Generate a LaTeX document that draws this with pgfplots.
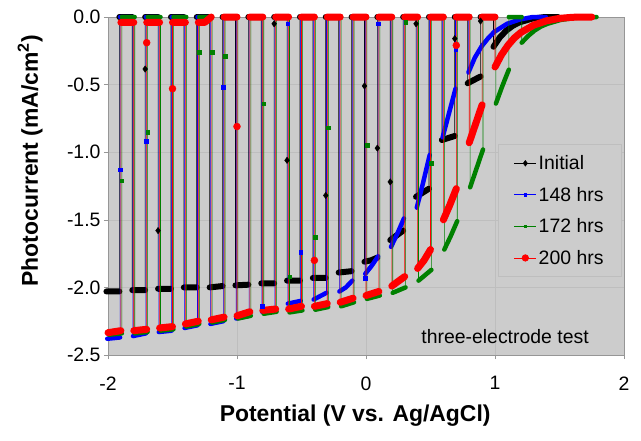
\documentclass[border=0pt]{standalone}
\usepackage{fontspec}
\setmainfont{Liberation Sans}
\usepackage{pgfplots}
\usepackage{pgfplotstable}
\pgfplotsset{compat=1.18}

\definecolor{plotbg}{RGB}{204,204,204}
\definecolor{gridc}{RGB}{190,190,190}
\definecolor{framec}{RGB}{150,150,150}
\definecolor{xlgreen}{RGB}{0,128,0}
\definecolor{xlblue}{RGB}{0,0,255}
\definecolor{xlred}{RGB}{255,0,0}

\newcommand\tickfont{\fontsize{19.5}{23.4}\selectfont}
\newcommand\labfont{\fontsize{23}{27}\selectfont\bfseries}

% f = 1: sampled point (thick run), 0: break on a transition, 2: lone point on a transition
\pgfplotstableread{
x y f
-2.0 -2.03 1
-1.9 -2.03 1
-1.9 -1.0 0
-1.9 0 1
-1.8 0 1
-1.8 -1.0 0
-1.8 -2.02 1
-1.7 -2.02 1
-1.7 -0.385 2
-1.7 0 1
-1.6 0 1
-1.6 -1.58 2
-1.6 -2.01 1
-1.5 -2.01 1
-1.5 -1.0 0
-1.5 0 1
-1.4 0 1
-1.4 -1.0 0
-1.4 -2.00 1
-1.3 -2.00 1
-1.3 -1.0 0
-1.3 0 1
-1.2 0 1
-1.2 -1.0 0
-1.2 -2.00 1
-1.1 -1.99 1
-1.1 -1.0 0
-1.1 0 1
-1.0 0 1
-1.0 -1.0 0
-1.0 -1.985 1
-0.9 -1.98 1
-0.9 -1.0 0
-0.9 0 1
-0.8 0 1
-0.8 -1.0 0
-0.8 -1.97 1
-0.7 -1.97 1
-0.7 -0.05 2
-0.7 0 1
-0.6 0 1
-0.6 -1.06 2
-0.6 -1.95 1
-0.5 -1.95 1
-0.5 -1.0 0
-0.5 0 1
-0.4 0 1
-0.4 -1.0 0
-0.4 -1.93 1
-0.3 -1.93 1
-0.3 -1.32 2
-0.3 0 1
-0.2 0 1
-0.2 -1.0 0
-0.2 -1.89 1
-0.1 -1.88 1
-0.1 -1.0 0
-0.1 0 1
0.0 0 1
0.0 -0.51 2
0.0 -1.81 1
0.05 -1.80 1
0.1 -1.78 1
0.1 -0.97 2
0.1 0 1
0.2 0 1
0.2 -1.22 2
0.2 -1.65 1
0.3 -1.58 1
0.3 -0.8 0
0.3 0 1
0.4 0 1
0.4 -0.05 2
0.4 -1.33 1
0.5 -1.27 1
0.5 -0.6 0
0.5 0 1
0.6 0 1
0.6 -0.45 0
0.6 -0.91 1
0.7 -0.88 1
0.7 -0.16 2
0.7 0 1
0.8 0 1
0.8 -0.25 0
0.8 -0.49 1
0.9 -0.44 1
0.9 -0.03 2
0.9 0 1
1.0 0 1
1.0 -0.1 0
1.0 -0.22 1
1.05 -0.15 1
1.1 -0.10 1
1.15 -0.065 1
1.2 -0.04 1
1.3 -0.012 1
1.4 0 1
1.5 0 1
}\initial

\pgfplotstableread{
x y f
-2.0 -2.38 1
-1.9 -2.37 1
-1.9 -1.13 2
-1.9 0 1
-1.8 0 1
-1.8 -1.2 0
-1.8 -2.36 1
-1.7 -2.34 1
-1.7 -0.92 2
-1.7 0 1
-1.6 0 1
-1.6 -1.2 0
-1.6 -2.33 1
-1.5 -2.32 1
-1.5 -1.2 0
-1.5 0 1
-1.4 0 1
-1.4 -1.2 0
-1.4 -2.30 1
-1.3 -2.28 1
-1.3 -1.2 0
-1.3 0 1
-1.2 0 1
-1.2 -1.2 0
-1.2 -2.27 1
-1.1 -2.25 1
-1.1 -0.52 2
-1.1 0 1
-1.0 0 1
-1.0 -1.2 0
-1.0 -2.23 1
-0.9 -2.21 1
-0.9 -1.2 0
-0.9 0 1
-0.8 0 1
-0.8 -2.14 2
-0.8 -2.18 1
-0.7 -2.16 1
-0.7 -1.1 0
-0.7 0 1
-0.6 0 1
-0.6 -0.05 2
-0.6 -2.12 1
-0.5 -2.10 1
-0.5 -1.74 2
-0.5 0 1
-0.4 0 1
-0.4 -1.1 0
-0.4 -2.09 1
-0.3 -2.04 1
-0.3 -1.0 0
-0.3 0 1
-0.2 0 1
-0.2 -1.0 0
-0.2 -2.03 1
-0.15 -2.00 1
-0.1 -1.95 1
-0.1 -1.0 0
-0.1 0 1
0.0 0 1
0.0 -1.93 2
0.0 -1.90 1
0.05 -1.84 1
0.1 -1.77 1
0.1 -0.05 2
0.1 0 1
0.2 0 1
0.2 -0.9 0
0.2 -1.70 1
0.25 -1.60 1
0.3 -1.49 1
0.3 -0.7 0
0.3 0 1
0.4 0 1
0.4 -0.7 0
0.4 -1.41 1
0.45 -1.22 1
0.5 -1.02 1
0.5 -0.5 0
0.5 0 1
0.6 0 1
0.6 -0.45 0
0.6 -0.89 1
0.65 -0.71 1
0.7 -0.53 1
0.7 -0.24 2
0.7 0 1
0.8 0 1
0.8 -0.2 0
0.8 -0.41 1
0.85 -0.30 1
0.9 -0.22 1
0.95 -0.16 1
1.0 -0.11 1
1.1 -0.05 1
1.2 -0.018 1
1.3 0 1
1.4 0 1
}\hrsA

\pgfplotstableread{
x y f
-2.0 -2.35 1
-1.9 -2.34 1
-1.9 -1.21 2
-1.9 0 1
-1.8 0 1
-1.8 -1.2 0
-1.8 -2.34 1
-1.7 -2.33 1
-1.7 -0.85 2
-1.7 0 1
-1.6 0 1
-1.6 -1.2 0
-1.6 -2.32 1
-1.5 -2.31 1
-1.5 -1.2 0
-1.5 0 1
-1.4 0 1
-1.4 -1.2 0
-1.4 -2.29 1
-1.3 -2.27 1
-1.3 -0.26 2
-1.3 0 1
-1.2 0 1
-1.2 -0.26 2
-1.2 -2.26 1
-1.1 -2.24 1
-1.1 -0.29 2
-1.1 0 1
-1.0 0 1
-1.0 -1.2 0
-1.0 -2.23 1
-0.9 -2.21 1
-0.9 -1.2 0
-0.9 0 1
-0.8 0 1
-0.8 -0.64 2
-0.8 -2.195 1
-0.7 -2.18 1
-0.7 -1.1 0
-0.7 0 1
-0.6 0 1
-0.6 -1.92 2
-0.6 -2.185 1
-0.5 -2.17 1
-0.5 -1.1 0
-0.5 0 1
-0.4 0 1
-0.4 -1.63 2
-0.4 -2.165 1
-0.3 -2.145 1
-0.3 -0.82 2
-0.3 0 1
-0.2 0 1
-0.2 -1.1 0
-0.2 -2.14 1
-0.1 -2.11 1
-0.1 -1.0 0
-0.1 0 1
0.0 0 1
0.0 -0.95 2
0.0 -2.085 1
0.1 -2.06 1
0.1 -1.0 0
0.1 0 1
0.2 0 1
0.2 -1.0 0
0.2 -2.04 1
0.3 -2.00 1
0.3 -0.04 2
0.3 0 1
0.4 0 1
0.4 -1.0 0
0.4 -1.95 1
0.45 -1.91 1
0.5 -1.87 1
0.5 -1.08 2
0.5 0 1
0.6 0 1
0.6 -0.9 0
0.6 -1.72 1
0.65 -1.62 1
0.7 -1.51 1
0.7 -0.7 0
0.7 0 1
0.8 0 1
0.8 -0.6 0
0.8 -1.26 1
0.85 -1.12 1
0.9 -0.98 1
0.9 -0.5 0
0.9 0 1
1.0 0 1
1.0 -0.3 0
1.0 -0.64 1
1.05 -0.51 1
1.1 -0.39 1
1.1 -0.2 0
1.1 0 1
1.2 0 1
1.2 -0.1 0
1.2 -0.19 1
1.25 -0.14 1
1.3 -0.10 1
1.35 -0.07 1
1.4 -0.05 1
1.5 -0.022 1
1.6 -0.008 1
1.7 0 1
1.78 0 1
}\hrsB

\pgfplotstableread{
x y f
-2.0 -2.335 1
-1.9 -2.32 1
-1.9 -1.1 0
-1.9 -0.04 1
-1.8 -0.04 1
-1.8 -1.1 0
-1.8 -2.32 1
-1.7 -2.31 1
-1.7 -0.19 2
-1.7 -0.04 1
-1.6 -0.04 1
-1.6 -1.1 0
-1.6 -2.30 1
-1.5 -2.29 1
-1.5 -0.53 2
-1.5 -0.04 1
-1.4 -0.04 1
-1.4 -1.1 0
-1.4 -2.27 1
-1.3 -2.25 1
-1.3 -1.1 0
-1.3 -0.04 1
-1.25 -0.04 1
-1.2 0 1
-1.2 -1.1 0
-1.2 -2.24 1
-1.1 -2.22 1
-1.1 -1.1 0
-1.1 0 1
-1.0 0 1
-1.0 -0.81 2
-1.0 -2.21 1
-0.9 -2.18 1
-0.9 -1.1 0
-0.9 0 1
-0.8 0 1
-0.8 -1.1 0
-0.8 -2.17 1
-0.7 -2.16 1
-0.7 -1.1 0
-0.7 0 1
-0.6 0 1
-0.6 -1.1 0
-0.6 -2.16 1
-0.5 -2.14 1
-0.5 -1.1 0
-0.5 0 1
-0.4 0 1
-0.4 -1.80 2
-0.4 -2.14 1
-0.3 -2.12 1
-0.3 -1.1 0
-0.3 0 1
-0.2 0 1
-0.2 -1.1 0
-0.2 -2.11 1
-0.1 -2.08 1
-0.1 -1.0 0
-0.1 0 1
0.0 0 1
0.0 -1.0 0
0.0 -2.06 1
0.1 -2.03 1
0.1 -1.0 0
0.1 0 1
0.2 0 1
0.2 -1.0 0
0.2 -1.99 1
0.3 -1.92 1
0.3 -1.0 0
0.3 0 1
0.4 0 1
0.4 -0.9 0
0.4 -1.86 1
0.45 -1.80 1
0.5 -1.72 1
0.5 -0.9 0
0.5 0 1
0.6 0 1
0.6 -0.7 0
0.6 -1.50 1
0.65 -1.39 1
0.7 -1.27 1
0.7 -0.21 2
0.7 0 1
0.8 0 1
0.8 -0.5 0
0.8 -0.93 1
0.85 -0.79 1
0.9 -0.65 1
0.9 -0.3 0
0.9 0 1
1.0 0 1
1.0 -0.2 0
1.0 -0.37 1
1.05 -0.28 1
1.1 -0.21 1
1.15 -0.155 1
1.2 -0.115 1
1.3 -0.06 1
1.4 -0.028 1
1.5 -0.01 1
1.6 -0.002 1
1.75 0 1
}\hrsC

\pgfplotsset{
  trace/.style={line width=0.6bp, no marks, forget plot},
  run/.style={line width=#1, line cap=round, line join=round, no marks, forget plot,
    unbounded coords=jump, restrict expr to domain={\thisrow{f}}{0.5:1.5}},
  lone/.style={only marks, forget plot, restrict expr to domain={\thisrow{f}}{1.5:2.5}},
}

\begin{document}
\begin{tikzpicture}
\begin{axis}[
  at={(0,0)}, anchor=south west,
  scale only axis, width=516bp, height=338bp,
  xmin=-2, xmax=2, ymin=-2.5, ymax=0,
  clip=false,
  axis background/.style={fill=plotbg},
  axis line style={framec, line width=0.8bp},
  grid=major, major grid style={gridc, line width=0.6bp},
  xtick={-2,-1,0,1,2}, xticklabels={-2,-1,0,1,2},
  ytick={-2.5,-2,-1.5,-1,-0.5,0},
  yticklabels={-2.5,-2.0,-1.5,-1.0,-0.5,0.0},
  xtick pos=left, ytick pos=left,
  tick align=outside, major tick length=4bp,
  tick style={framec, line width=0.6bp},
  every tick label/.append style={font=\tickfont},
  xticklabel style={yshift=-14bp},
  xlabel={Potential (V vs. Ag/AgCl)},
  ylabel={Photocurrent (mA/cm\textsuperscript{2})},
  every axis x label/.style={at={(axis description cs:0.479,-0.178)}, anchor=center, font=\labfont},
  every axis y label/.style={at={(axis description cs:-0.151,0.575)}, rotate=90, anchor=center, font=\labfont},
  legend style={at={(axis description cs:0.996,0.624)}, anchor=north east,
    fill=plotbg, draw=gridc, line width=0.8bp, font=\tickfont,
    row sep=12bp, inner xsep=16bp, inner ysep=9bp},
  legend cell align=left,
  legend image code/.code={\draw[mark repeat=2, mark phase=2]
    plot coordinates {(0bp,0bp) (11bp,0bp) (22bp,0bp)};},
]
\addlegendimage{black, line width=0.8bp, mark=diamond*, mark size=2.6bp}
\addlegendentry{Initial}
\addlegendimage{xlblue, line width=0.8bp, mark=square*, mark size=1.3bp}
\addlegendentry{148 hrs}
\addlegendimage{xlgreen, line width=0.8bp, mark=square*, mark size=1.3bp}
\addlegendentry{172 hrs}
\addlegendimage{xlred, line width=0.8bp, mark=*, mark size=3.2bp}
\addlegendentry{200 hrs}

% the four runs were not chopped in exact step: small shifts in potential
\addplot[black, trace] table[x expr=\thisrow{x}-0.012] {\initial};
\addplot[black, run=6bp] table[x expr=\thisrow{x}-0.012] {\initial};
\addplot[black, lone, mark=diamond*, mark size=3.2bp] table[x expr=\thisrow{x}-0.012] {\initial};

\addplot[xlblue, trace] table[x expr=\thisrow{x}-0.006] {\hrsA};
\addplot[xlblue, run=4.5bp] table[x expr=\thisrow{x}-0.006] {\hrsA};
\addplot[xlblue, lone, mark=square*, mark size=1.8bp] table[x expr=\thisrow{x}-0.006] {\hrsA};

\addplot[xlgreen, trace] table[x expr=\thisrow{x}+0.007] {\hrsB};
\addplot[xlgreen, run=4.5bp] table[x expr=\thisrow{x}+0.007] {\hrsB};
\addplot[xlgreen, lone, mark=square*, mark size=1.8bp] table[x expr=\thisrow{x}+0.007] {\hrsB};

\addplot[xlred, trace] table {\hrsC};
\addplot[xlred, run=7bp] table {\hrsC};
\addplot[xlred, lone, mark=*, mark size=3.5bp] table {\hrsC};

\node[font=\tickfont, anchor=center] at (axis cs:1.078,-2.367) {three-electrode test};
\end{axis}
\pgfresetboundingbox
\path[use as bounding box] (-108bp,-86bp) rectangle (533bp,355bp);
\end{tikzpicture}
\end{document}
